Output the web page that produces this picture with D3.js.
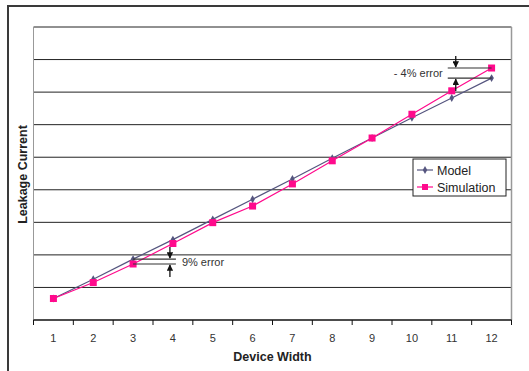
<!DOCTYPE html>
<html>
<head>
<meta charset="UTF-8">
<script src="https://cdn.jsdelivr.net/npm/d3@7"></script>
<style>
  body { margin: 0; background: #fff; }
  text { font-family: Arial, "Liberation Sans", sans-serif; }
</style>
</head>
<body>
<div id="chart"></div>
<script>
var widths = [1, 2, 3, 4, 5, 6, 7, 8, 9, 10, 11, 12];
var model = [0.66, 1.25, 1.87, 2.47, 3.09, 3.71, 4.33, 4.97, 5.59, 6.21, 6.82, 7.43];
var simulation = [0.66, 1.15, 1.72, 2.35, 2.99, 3.50, 4.18, 4.89, 5.59, 6.32, 7.04, 7.74];
var gridTicks = [1, 2, 3, 4, 5, 6, 7, 8, 9];

var W = 529, H = 371;
var m = {left: 33.5, right: 17.5, top: 27, bottom: 51};

var svg = d3.select('#chart').append('svg')
    .attr('width', W).attr('height', H);

// outer frame, cut off on the right and bottom like the scan
svg.append('path')
    .attr('d', 'M8,' + H + 'V6H' + W)
    .attr('fill', 'none').attr('stroke', '#3a3a3a').attr('stroke-width', 2);

var x = d3.scaleBand().domain(widths).range([m.left, W - m.right]);
var y = d3.scaleLinear().domain([0, 9]).range([H - m.bottom, m.top]);
var cx = function(d) { return x(d) + x.bandwidth() / 2; };

// gridlines
svg.append('g').selectAll('line')
    .data(gridTicks)
    .enter().append('line')
    .attr('x1', m.left).attr('x2', W - m.right)
    .attr('y1', function(d) { return y(d); })
    .attr('y2', function(d) { return y(d); })
    .attr('stroke', '#222')
    .attr('stroke-width', 1);

// plot frame left/right
svg.append('line').attr('x1', m.left).attr('x2', m.left)
    .attr('y1', m.top).attr('y2', y(0)).attr('stroke', '#999');
svg.append('line').attr('x1', W - m.right).attr('x2', W - m.right)
    .attr('y1', m.top).attr('y2', y(0)).attr('stroke', '#999').attr('stroke-width', 1.5);

// x axis
var xAxis = svg.append('g').attr('transform', 'translate(0,' + y(0) + ')');
xAxis.append('line').attr('x1', m.left).attr('x2', W - m.right)
    .attr('stroke', '#111').attr('stroke-width', 1.5);
xAxis.selectAll('.tk').data(widths.concat([13]))
    .enter().append('line')
    .attr('x1', function(d) { return d === 13 ? W - m.right : x(d); })
    .attr('x2', function(d) { return d === 13 ? W - m.right : x(d); })
    .attr('y1', 0).attr('y2', 5).attr('stroke', '#111');
xAxis.selectAll('.lbl').data(widths)
    .enter().append('text')
    .attr('x', cx).attr('y', 22)
    .attr('text-anchor', 'middle')
    .attr('font-size', 11).attr('fill', '#333')
    .text(function(d) { return d; });

svg.append('text')
    .attr('x', (m.left + W - m.right) / 2).attr('y', 361)
    .attr('text-anchor', 'middle').attr('font-size', 12.5).attr('font-weight', 'bold')
    .attr('fill', '#222').text('Device Width');

svg.append('text')
    .attr('transform', 'translate(27,' + ((m.top + y(0)) / 2 + 1) + ') rotate(-90)')
    .attr('text-anchor', 'middle').attr('font-size', 12.5).attr('font-weight', 'bold')
    .attr('fill', '#222').text('Leakage Current');

// series
var line = d3.line().x(function(d, i) { return cx(widths[i]); }).y(function(d) { return y(d); });
var modelColor = '#55557f', simColor = '#ff0a8c';

svg.append('path').datum(model).attr('d', line)
    .attr('fill', 'none').attr('stroke', modelColor).attr('stroke-width', 1.2);
svg.append('path').datum(simulation).attr('d', line)
    .attr('fill', 'none').attr('stroke', simColor).attr('stroke-width', 1.2);

var diamond = d3.symbol().type(d3.symbolDiamond).size(18);
svg.selectAll('.dm').data(model).enter().append('path')
    .attr('d', diamond)
    .attr('transform', function(d, i) { return 'translate(' + cx(widths[i]) + ',' + y(d) + ')'; })
    .attr('fill', modelColor);
svg.selectAll('.sq').data(simulation).enter().append('rect')
    .attr('x', function(d, i) { return cx(widths[i]) - 3.5; })
    .attr('y', function(d) { return y(d) - 3.5; })
    .attr('width', 7).attr('height', 7)
    .attr('fill', simColor);

// error annotations
var defs = svg.append('defs');
defs.append('marker').attr('id', 'ah').attr('viewBox', '0 0 10 10')
    .attr('refX', 9).attr('refY', 5).attr('markerWidth', 5).attr('markerHeight', 5)
    .attr('orient', 'auto')
    .append('path').attr('d', 'M0,0L10,5L0,10Z').attr('fill', '#111');

function errorMark(i, x1, x2, ax, label, lx, anchor) {
    var ya = y(model[i]), yb = y(simulation[i]);
    var top = Math.min(ya, yb), bot = Math.max(ya, yb);
    var g = svg.append('g');
    [top, bot].forEach(function(v) {
        g.append('line').attr('x1', x1).attr('x2', x2).attr('y1', v).attr('y2', v)
            .attr('stroke', '#333').attr('stroke-width', 1.2);
    });
    g.append('line').attr('x1', ax).attr('x2', ax).attr('y1', top - 12).attr('y2', top - 1)
        .attr('stroke', '#111').attr('stroke-width', 1.3).attr('marker-end', 'url(#ah)');
    g.append('line').attr('x1', ax).attr('x2', ax).attr('y1', bot + 13).attr('y2', bot + 1)
        .attr('stroke', '#111').attr('stroke-width', 1.3).attr('marker-end', 'url(#ah)');
    g.append('text').attr('x', lx).attr('y', (top + bot) / 2 + 4)
        .attr('text-anchor', anchor).attr('font-size', 11).attr('fill', '#333').text(label);
}
errorMark(2, cx(3), cx(4) + 3, cx(4) - 3, '9% error', cx(4) + 9, 'start');
errorMark(11, cx(11) - 4, cx(12), cx(11) + 4, '- 4% error', cx(11) - 9, 'end');

// legend
var lg = svg.append('g').attr('transform', 'translate(413,159)');
lg.append('rect').attr('width', 93).attr('height', 37)
    .attr('fill', '#fff').attr('stroke', '#222');
lg.append('line').attr('x1', 4).attr('x2', 20).attr('y1', 11).attr('y2', 11)
    .attr('stroke', modelColor).attr('stroke-width', 1.2);
lg.append('path').attr('d', diamond).attr('transform', 'translate(12,11)').attr('fill', modelColor);
lg.append('text').attr('x', 24).attr('y', 16).attr('font-size', 12.5).attr('fill', '#222').text('Model');
lg.append('line').attr('x1', 4).attr('x2', 20).attr('y1', 28).attr('y2', 28)
    .attr('stroke', simColor).attr('stroke-width', 1.2);
lg.append('rect').attr('x', 9).attr('y', 25).attr('width', 6).attr('height', 6).attr('fill', simColor);
lg.append('text').attr('x', 24).attr('y', 33).attr('font-size', 12.5).attr('fill', '#222').text('Simulation');
</script>
</body>
</html>
